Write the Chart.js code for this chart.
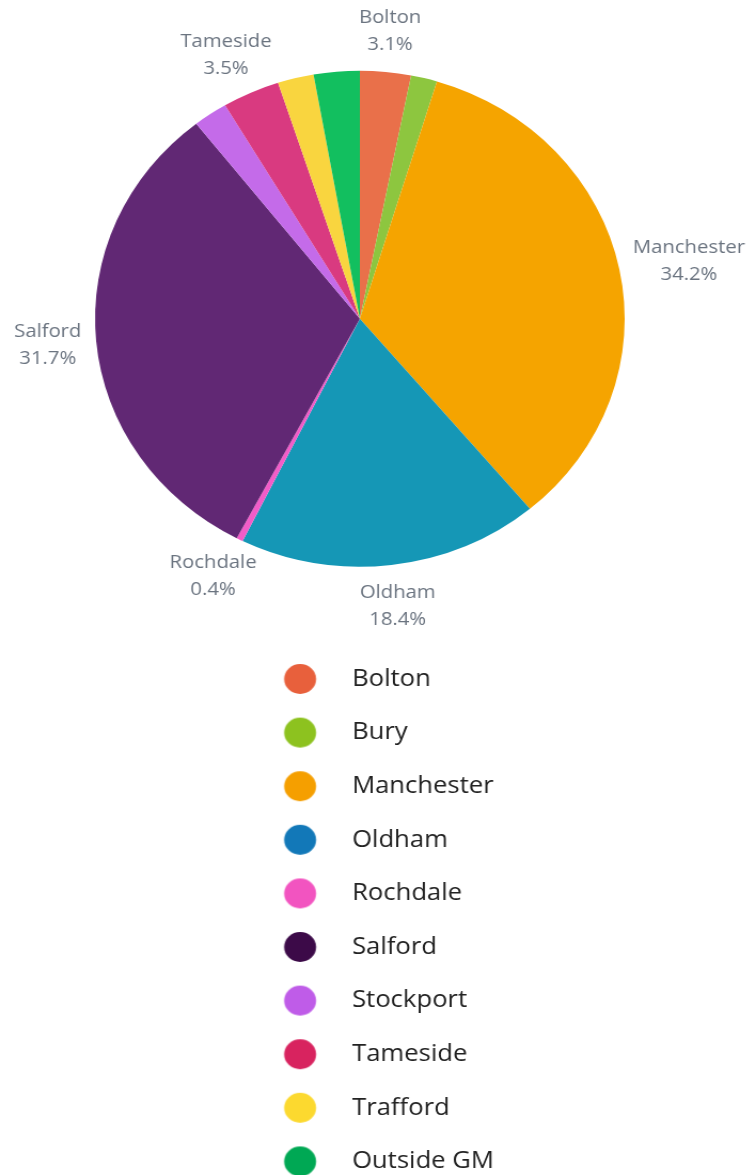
<!DOCTYPE html>
<html>
<head>
<meta charset="utf-8">
<script src="https://cdn.jsdelivr.net/npm/chart.js@4/dist/chart.umd.min.js"></script>
<style>
  html, body { margin: 0; padding: 0; background: #fff; overflow: hidden; }
  /* the source picture is stretched a little sideways, so draw at 708 wide and scale */
  #wrap { width: 708px; height: 1190px; transform: scaleX(1.0678); transform-origin: 0 0; }
</style>
</head>
<body>
<div id="wrap"><canvas id="areas"></canvas></div>
<script>
const areas = ['Bolton', 'Bury', 'Manchester', 'Oldham', 'Rochdale', 'Salford',
               'Stockport', 'Tameside', 'Trafford', 'Outside GM']
const shares = [3.1, 1.6, 34.2, 18.4, 0.4, 31.7, 2.1, 3.5, 2.2, 2.8]
const labelled = ['Bolton', 'Manchester', 'Oldham', 'Rochdale', 'Salford', 'Tameside']

const sliceColours = ['#e9704a', '#8dc63f', '#f5a400', '#1597b6', '#f25cc8',
                      '#612874', '#c46be9', '#d93a80', '#f9d53f', '#12bf5f']
const legendColours = ['#e8603c', '#8dc21f', '#f59f00', '#1278b8', '#f254c0',
                       '#3c0a48', '#bf5ce8', '#d8235f', '#fcd92f', '#00a854']

// legend marker: circle placed inside a wider box, so the gap to the text matches
function dot(colour) {
  let c = document.createElement('canvas')
  c.width = 94
  c.height = 32
  let g = c.getContext('2d')
  g.fillStyle = colour
  g.beginPath()
  g.arc(57.3, 16, 15, 0, Math.PI * 2)
  g.fill()
  return c
}
const dots = legendColours.map(dot)

const sliceLabels = {
  id: 'sliceLabels',
  afterDatasetsDraw(chart) {
    const ctx = chart.ctx
    const meta = chart.getDatasetMeta(0)
    ctx.save()
    ctx.font = '19px "Open Sans"'
    ctx.fillStyle = '#6b7480'
    ctx.textAlign = 'center'
    ctx.textBaseline = 'middle'
    meta.data.forEach((arc, i) => {
      if (labelled.indexOf(areas[i]) === -1) return
      const a = (arc.startAngle + arc.endAngle) / 2
      const r = arc.outerRadius + 14
      const lines = [areas[i], shares[i].toFixed(1) + '%']
      const w = Math.max(...lines.map(t => ctx.measureText(t).width))
      const h = 54
      const cx = arc.x + Math.cos(a) * (r + w / 2)
      const cy = arc.y + Math.sin(a) * r + Math.sin(a) * h / 2
      ctx.fillText(lines[0], cx, cy - 13.5)
      ctx.fillText(lines[1], cx, cy + 13.5)
    })
    ctx.restore()
  }
}

let ctx = document.getElementById('areas')
new Chart(ctx, {
  type: 'pie',
  data: {
    labels: areas,
    datasets: [{
      data: shares,
      backgroundColor: sliceColours,
      borderWidth: 0,
      radius: 248,
      clip: false
    }]
  },
  options: {
    responsive: true,
    maintainAspectRatio: false,
    animation: false,
    layout: { padding: { top: -9.4, bottom: 6.6, left: 194.1, right: 228.1 } },
    plugins: {
      tooltip: { enabled: false },
      legend: {
        position: 'bottom',
        align: 'start',
        labels: {
          usePointStyle: true,
          pointStyleWidth: 94,
          padding: 29.6,
          color: '#222222',
          font: { family: 'Open Sans', size: 24 },
          generateLabels: chart => areas.map((name, i) => ({
            text: name,
            pointStyle: dots[i],
            fillStyle: legendColours[i],
            strokeStyle: legendColours[i],
            fontColor: '#222222',
            lineWidth: 0,
            hidden: false,
            index: i
          }))
        }
      }
    }
  },
  plugins: [sliceLabels]
})
</script>
</body>
</html>
